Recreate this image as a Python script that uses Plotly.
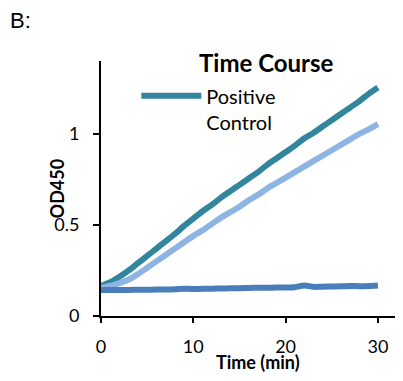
import plotly.graph_objects as go

time_min = list(range(31))
positive_control = [0.165, 0.185, 0.215, 0.25, 0.29, 0.33, 0.37, 0.41, 0.45, 0.495,
                    0.535, 0.575, 0.61, 0.65, 0.685, 0.72, 0.755, 0.79, 0.83, 0.865,
                    0.90, 0.935, 0.975, 1.005, 1.04, 1.075, 1.11, 1.145, 1.18, 1.22, 1.255]
series_light = [0.155, 0.165, 0.18, 0.20, 0.23, 0.265, 0.30, 0.335, 0.37, 0.405,
                0.44, 0.47, 0.505, 0.54, 0.57, 0.60, 0.635, 0.665, 0.70, 0.73,
                0.76, 0.79, 0.82, 0.85, 0.88, 0.91, 0.94, 0.97, 1.0, 1.025, 1.053]
series_flat = [0.143, 0.143, 0.143, 0.143, 0.144, 0.144, 0.145, 0.145, 0.147, 0.150,
               0.148, 0.149, 0.150, 0.151, 0.152, 0.153, 0.154, 0.155, 0.155, 0.156,
               0.157, 0.158, 0.168, 0.160, 0.161, 0.162, 0.163, 0.165, 0.164, 0.165, 0.168]
x_ticks = [0, 10, 20, 30]
y_ticks = [0, 0.5, 1]
y_tick_labels = ["0", "0.5", "1"]

FONT = "Lato"
fig = go.Figure()
fig.add_trace(go.Scatter(x=time_min, y=positive_control, mode="lines",
                         name="Positive<br>Control",
                         line=dict(color="#31859C", width=6, shape="spline", smoothing=0.8),
                         showlegend=True))
fig.add_trace(go.Scatter(x=time_min, y=series_light, mode="lines", name="Series 2",
                         line=dict(color="#8EB4E3", width=6, shape="spline", smoothing=0.8),
                         showlegend=False))
fig.add_trace(go.Scatter(x=time_min, y=series_flat, mode="lines", name="Series 3",
                         line=dict(color="#4A7EBB", width=6, shape="spline", smoothing=0.8),
                         showlegend=False))

fig.update_layout(
    width=403, height=381,
    margin=dict(l=101, r=8, t=61, b=65),
    paper_bgcolor="white", plot_bgcolor="white",
    font=dict(family=FONT, size=18, color="black"),
    showlegend=True,
    legend=dict(x=0.12, y=0.94, xanchor="left", yanchor="top", valign="top",
                font=dict(family=FONT, size=20, color="black"),
                bgcolor="rgba(0,0,0,0)", itemwidth=60, tracegroupgap=0),
    xaxis=dict(range=[0, 31.85], tickvals=x_ticks, showgrid=False, zeroline=False,
               showline=True, linecolor="black", linewidth=2,
               ticks="outside", ticklen=5, tickwidth=2, tickcolor="black",
               tickfont=dict(family=FONT, size=18, color="black"),
               ticklabelstandoff=8),
    yaxis=dict(range=[0, 1.4], tickvals=y_ticks, ticktext=y_tick_labels,
               showgrid=False, zeroline=False,
               showline=True, linecolor="black", linewidth=2,
               ticks="outside", ticklen=6, tickwidth=2, tickcolor="black",
               tickfont=dict(family=FONT, size=18, color="black"),
               ticklabelstandoff=10),
    annotations=[
        dict(text="<b>Time Course</b>", xref="paper", yref="paper", x=0.563, y=0.996,
             xanchor="center", yanchor="middle", showarrow=False,
             font=dict(family=FONT, size=24, color="black")),
        dict(text="<b>Time (min)</b>", xref="paper", yref="paper", x=0.534, y=-0.18,
             xanchor="center", yanchor="middle", showarrow=False,
             font=dict(family=FONT, size=18, color="black")),
        dict(text="<b>OD450</b>", xref="paper", yref="paper", x=-0.15, y=0.5,
             xanchor="center", yanchor="middle", textangle=-90, showarrow=False,
             font=dict(family=FONT, size=18, color="black")),
        dict(text="B:", xref="paper", yref="paper", x=-0.316, y=1.16,
             xanchor="left", yanchor="middle", showarrow=False,
             font=dict(family="Liberation Sans", size=22, color="black")),
    ],
)

fig.write_html("out.html", config={"displayModeBar": False},
               post_script="document.body.style.margin='0';document.body.style.padding='0';")
